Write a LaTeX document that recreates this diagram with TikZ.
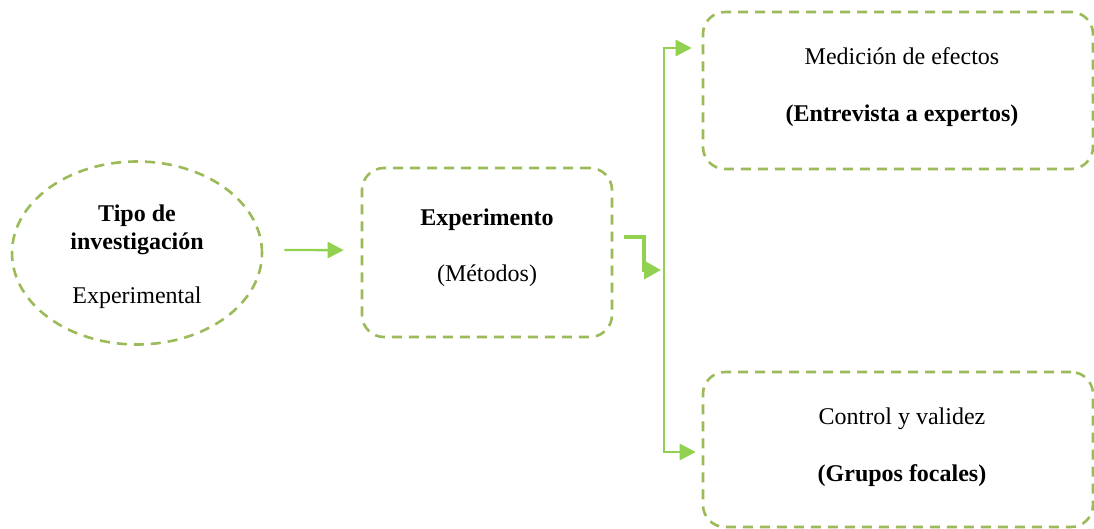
\documentclass[tikz,border=0pt]{standalone}
\usepackage{fontspec}
\setmainfont{Liberation Serif}
\usetikzlibrary{arrows.meta,shapes.geometric}

\begin{document}
\begin{tikzpicture}[x=0.5pt,y=-0.5pt,
  caja/.style={draw=lineColor,line width=1.3pt,dash pattern=on 5pt off 3.5pt,rounded corners=11pt,inner sep=0pt},
  texto/.style={align=center,inner sep=0pt,font=\fontsize{12}{14}\selectfont},
  flecha/.style={draw=arrowColor,line width=1.2pt,-{Triangle[length=8pt,width=8pt]}}]
\definecolor{lineColor}{RGB}{155,187,89}
\definecolor{arrowColor}{RGB}{146,208,80}
\path[use as bounding box,fill=white] (0,0) rectangle (1094,529);

\node[ellipse,draw=lineColor,line width=1.3pt,dash pattern=on 5pt off 3.5pt,minimum width=125pt,minimum height=91.5pt,inner sep=0pt] (tipo) at (137,253) {};
\node[texto] (tipotxt) at (137,257) {\textbf{Tipo de}\\\textbf{investigación}\\[13pt]Experimental};

\node[caja,minimum width=125pt,minimum height=84.5pt] (exp) at (487,252.5) {};
\node[texto] (exptxt) at (487,248) {\textbf{Experimento}\\[14pt](Métodos)};

\node[caja,minimum width=195pt,minimum height=78.5pt] (medicion) at (898,90.5) {};
\node[texto] (mediciontxt) at (902,87) {Medición de efectos\\[14.5pt]\textbf{(Entrevista a expertos)}};

\node[caja,minimum width=195pt,minimum height=77.5pt] (control) at (898,449.5) {};
\node[texto] (controltxt) at (902,447) {Control y validez\\[14.5pt]\textbf{(Grupos focales)}};

% conectores
\coordinate (tronco) at (664,270);
\coordinate (troncoarriba) at (664,48);
\coordinate (troncoabajo) at (664,452);

\draw[flecha] ([xshift=10.5pt,yshift=1.5pt]tipo.east) -- ([xshift=-8.5pt,yshift=1.2pt]exp.west);

\draw[flecha,line width=2pt,-{Triangle[length=8.5pt,width=9pt]}] ([shift={(5.5pt,7.5pt)}]exp.east) -- ++(10pt,0) |- ([xshift=-1.5pt]tronco);

\draw[arrowColor,line width=1.2pt] (troncoarriba) -- (troncoabajo);
\draw[flecha] ([xshift=-0.6pt]troncoarriba) -- ([xshift=-5pt]medicion.west |- troncoarriba);
\draw[flecha] ([xshift=-0.6pt]troncoabajo) -- ([xshift=-3pt]control.west |- troncoabajo);
\end{tikzpicture}
\end{document}
